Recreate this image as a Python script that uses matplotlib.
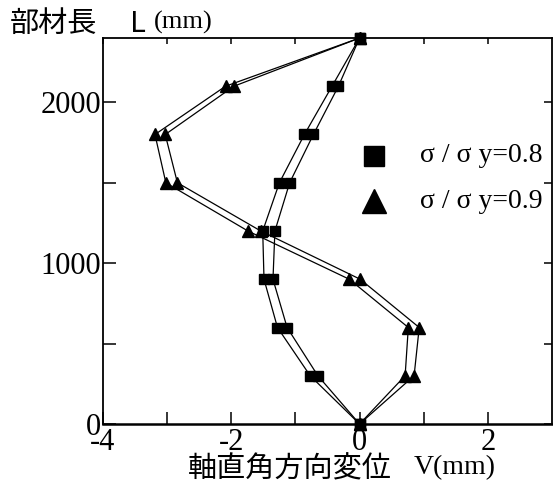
import matplotlib
matplotlib.use("Agg")
import matplotlib.pyplot as plt
from matplotlib.ticker import FuncFormatter

# Member length positions (mm)
L = [0, 300, 600, 900, 1200, 1500, 1800, 2100, 2400]

# Transverse displacement V (mm), two gauge lines per load level
v08_a = [0, -0.77, -1.28, -1.49, -1.51, -1.25, -0.86, -0.43, 0]
v08_b = [0, -0.65, -1.13, -1.35, -1.32, -1.09, -0.72, -0.33, 0]
v09_a = [0, 0.71, 0.76, -0.16, -1.74, -3.02, -3.19, -2.09, 0]
v09_b = [0, 0.85, 0.93, 0.01, -1.54, -2.84, -3.03, -1.96, 0]

labels = ["σ / σ y=0.8", "σ / σ y=0.9"]

x_major = [-4, -2, 0, 2]
x_minor = [-3, -1, 1]
y_major = [0, 1000, 2000]
y_minor = [500, 1500]

serif = ["Liberation Serif", "DejaVu Serif"]
cjk = ["Noto Sans CJK JP", "DejaVu Sans"]

fig = plt.figure(figsize=(5.53, 4.94), dpi=100)
W, H = 553, 494
ax = fig.add_axes([103 / W, 1 - 424 / H, (552 - 103) / W, (424 - 38) / H])

lw = 0.9
for v in (v08_a, v08_b):
    ax.plot(v, L, color="black", lw=lw, marker="s", ms=7.5, mec="black",
            mfc="black", clip_on=False, zorder=3)
for v in (v09_a, v09_b):
    ax.plot(v, L, color="black", lw=lw, marker="^", ms=8.5, mec="black",
            mfc="black", clip_on=False, zorder=3)

ax.set_xlim(-4, 3)
ax.set_ylim(0, 2400)

ax.set_xticks(x_major)
ax.set_xticks(x_minor, minor=True)
ax.set_yticks(y_major)
ax.set_yticks(y_minor, minor=True)
ax.xaxis.set_major_formatter(FuncFormatter(lambda x, p: f"{x:g}"))
ax.yaxis.set_major_formatter(FuncFormatter(lambda y, p: f"{y:g}"))

ax.tick_params(axis="x", which="both", direction="in", length=9, width=1.1,
               bottom=True, top=True, labelsize=22, pad=3)
ax.tick_params(axis="y", which="both", direction="in", length=9, width=1.1,
               left=True, right=True, labelsize=22, pad=1.5)
for lab in ax.get_xticklabels() + ax.get_yticklabels():
    lab.set_family(serif)

# Shorter ticks along the top and right edges
for t in ax.xaxis.get_major_ticks() + ax.xaxis.get_minor_ticks():
    t.tick2line.set_markersize(4.5)
for t in ax.yaxis.get_major_ticks() + ax.yaxis.get_minor_ticks():
    t.tick2line.set_markersize(6)

for sp in ax.spines.values():
    sp.set_linewidth(1.3)
ax.spines["bottom"].set_linewidth(1.8)

# Axis titles
fig.text(10 / W, 1 - 24 / H, "部材長", family=cjk, fontsize=21,
         va="center", ha="left")
fig.text(130 / W, 1 - 24 / H, "L", family=cjk, fontsize=21,
         va="center", ha="left")
fig.text(154 / W, 1 - 22 / H, "(mm)", family=serif, fontsize=19,
         va="center", ha="left")

fig.text(188 / W, 1 - 469 / H, "軸直角方向変位", family=cjk, fontsize=21,
         va="center", ha="left")
fig.text(414 / W, 1 - 468 / H, "V(mm)", family=serif, fontsize=20,
         va="center", ha="left")

# Legend
leg_x = 374
leg_rows = [(156, "s", labels[0], 15), (201, "^", labels[1], 17)]
for yy, mk, txt, ms in leg_rows:
    ax.plot([leg_x / W], [1 - yy / H], transform=fig.transFigure, marker=mk,
            ms=ms, color="black", clip_on=False, ls="none")
    fig.text(420 / W, 1 - yy / H, txt, family=serif, fontsize=20,
             va="center", ha="left")

fig.savefig("out.png", dpi=100)
